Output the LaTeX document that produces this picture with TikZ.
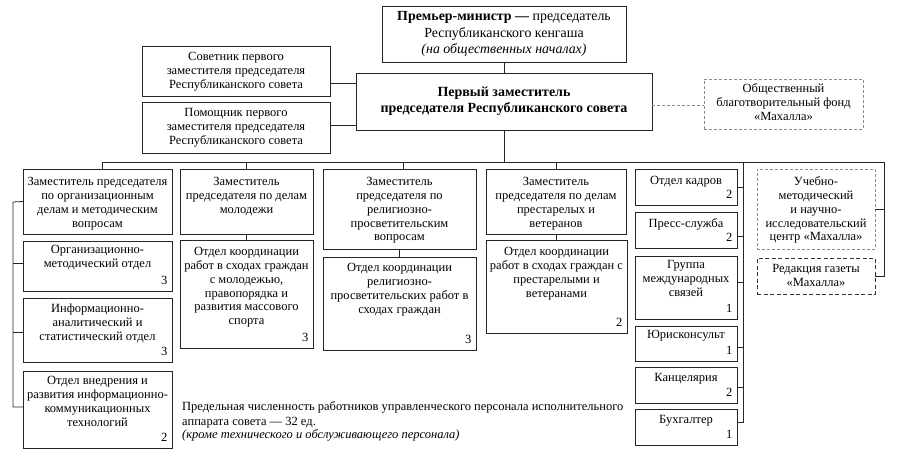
\documentclass[tikz,border=0pt]{standalone}
\usepackage{fontspec}
\setmainfont{Liberation Serif}
\tikzset{
 box/.style={draw=black!85, line width=0.8pt, inner sep=0pt, outer sep=0pt},
 gbox/.style={box, draw=black!45, dash pattern=on 3pt off 2pt},
 kbox/.style={box, draw=black!80, dash pattern=on 4pt off 2.5pt, line width=1pt},
 txt/.style={inner sep=0pt, align=center, anchor=north, font=\fontsize{12.5}{13.8}\selectfont},
 num/.style={inner sep=0pt, font=\fontsize{12.5}{13.8}\selectfont, anchor=base east},
 conn/.style={draw=black!85, line width=0.8pt},
 gconn/.style={draw=black!45, line width=0.8pt, dash pattern=on 3pt off 2pt},
}
\newcommand\bx[6][]{\node[box,#1,anchor=north west,minimum width={(#5-#3)*1pt},minimum height={(#6-#4)*1pt}] (#2) at (#3,#4) {};}
\newcommand\tx[3]{\node[txt] (#1t) at ([yshift=-#2pt]#1.north) {\rule{0pt}{9pt}#3};}
\newcommand\nm[2]{\node[num] (#1n) at ([xshift=-4.5pt,yshift=7pt]#1.south east) {#2};}
\begin{document}
\begin{tikzpicture}[x=1pt,y=-1pt]
\useasboundingbox (0,0) rectangle (904,467);
% boxes
\bx{prem}{382}{6}{626}{62}
\bx{fd}{356}{73}{652}{130}
\bx{sov}{142}{46}{330}{96}
\bx{pom}{142}{102}{330}{153}
\bx[gbox]{fund}{704}{79}{863}{129}
\bx{A1}{23}{169}{172}{234}
\bx{A2}{23}{241}{172}{291}
\bx{A3}{23}{298}{172}{362}
\bx{A4}{23}{371}{172}{448}
\bx{B1}{180}{169}{313}{234}
\bx{B2}{180}{240}{313}{348}
\bx{C1}{323}{169}{476}{249}
\bx{C2}{323}{257}{476}{350}
\bx{D1}{486}{169}{626}{234}
\bx{D2}{486}{240}{627}{333}
\bx{kad}{635}{169}{737}{205}
\bx{prs}{635}{212}{737}{248}
\bx{grp}{635}{256}{737}{319}
\bx{yur}{635}{326}{737}{361}
\bx{kan}{635}{367}{737}{403}
\bx{buh}{635}{409}{737}{445}
\bx[gbox]{uch}{757}{169}{875}{249}
\bx[kbox]{red}{757}{258}{875}{294}
% texts
\node[txt,anchor=center,font=\fontsize{13.9}{16.5}\selectfont] (premt) at (prem.center)
  {\textbf{Премьер-министр —} председатель\\Республиканского кенгаша\\\textit{(на общественных началах)}};
\node[txt,anchor=center,font=\fontsize{14}{16}\selectfont\bfseries] (fdt) at (fd.center)
  {Первый заместитель\\председателя Республиканского совета};
\tx{sov}{5.5}{Советник первого\\заместителя председателя\\Республиканского совета}
\tx{pom}{5.5}{Помощник первого\\заместителя председателя\\Республиканского совета}
\tx{fund}{4.5}{Общественный\\благотворительный фонд\\«Махалла»}
\tx{A1}{7.5}{Заместитель председателя\\по организационным\\делам и методическим\\вопросам}
\tx{A2}{3.5}{Организационно-\\методический отдел}
\tx{A3}{5.5}{Информационно-\\аналитический и\\статистический отдел}
\tx{A4}{4.5}{Отдел внедрения и\\развития информационно-\\коммуникационных\\технологий}
\tx{B1}{7.5}{Заместитель\\председателя по делам\\молодежи}
\tx{B2}{6.5}{Отдел координации\\работ в сходах граждан\\с молодежью,\\правопорядка и\\развития массового\\спорта}
\tx{C1}{7.5}{Заместитель\\председателя по\\религиозно-\\просветительским\\вопросам}
\tx{C2}{5.5}{Отдел координации\\религиозно-\\просветительских работ в\\сходах граждан}
\tx{D1}{7.5}{Заместитель\\председателя по делам\\престарелых и\\ветеранов}
\tx{D2}{6.5}{Отдел координации\\работ в сходах граждан с\\престарелыми и\\ветеранами}
\tx{kad}{6.5}{Отдел кадров}
\tx{prs}{6.5}{Пресс-служба}
\tx{grp}{3.5}{Группа\\международных\\связей}
\tx{yur}{3.5}{Юрисконсульт}
\tx{kan}{5.5}{Канцелярия}
\tx{buh}{5.5}{Бухгалтер}
\tx{uch}{7.5}{Учебно-\\методический\\и научно-\\исследовательский\\центр «Махалла»}
\tx{red}{5.5}{Редакция газеты\\«Махалла»}
% numbers
\nm{A2}{3}\nm{A3}{3}\nm{A4}{2}
\nm{B2}{3}\nm{C2}{3}\nm{D2}{2}
\nm{kad}{2}\nm{prs}{2}\nm{grp}{1}\nm{yur}{1}\nm{kan}{2}\nm{buh}{1}
% footnote
\node[inner sep=0pt, anchor=north west, align=left, font=\fontsize{12.5}{13.8}\selectfont] (note) at (182,401.5)
  {\rule{0pt}{9pt}Предельная численность работников управленческого персонала исполнительного\\[1.2pt]
   аппарата совета — 32 ед.\\[-0.8pt]
   \textit{(кроме технического и обслуживающего персонала)}};
% connectors
\coordinate (busL) at (102,162);
\coordinate (busR) at (884,162);
\coordinate (rc) at (743,162);
\coordinate (lc) at (13,202);
\draw[conn] (prem.south) -- (fd.north);
\draw[conn] ([yshift=-12pt]sov.east) -- ([yshift=-12pt]sov.east -| fd.west);
\draw[conn] ([yshift=2.5pt]pom.east) -- ([yshift=2.5pt]pom.east -| fd.west);
\draw[gconn] ([yshift=-4pt]fd.east) -- ([yshift=-4pt]fd.east -| fund.west);
\draw[conn] (fd.south) -- (fd.south |- busL);
\draw[conn] (A1.north -| busL) |- (busR) |- (red.east);
\draw[conn] (uch.east) -- (uch.east -| busR);
\draw[conn] (B1.north) -- (B1.north |- busL);
\draw[conn] ([xshift=3.5pt]C1.north) -- ([xshift=3.5pt]C1.north |- busL);
\draw[conn] (D1.north) -- (D1.north |- busL);
\draw[conn] (B1.south) -- (B2.north);
\draw[conn] (C1.south) -- (C2.north);
\draw[conn] (D1.south) -- (D1.south |- D2.north);
\draw[conn] (A1.west) -- (lc) |- ([yshift=2.5pt]A4.west);
\draw[conn] ([yshift=3pt]A2.west) -- ([yshift=3pt]A2.west -| lc);
\draw[conn] ([yshift=-2pt]A3.west) -- ([yshift=-2pt]A3.west -| lc);
\draw[conn] (rc) |- ([yshift=5pt]buh.east);
\draw[conn] (kad.east) -- (kad.east -| rc);
\draw[conn] ([yshift=-6pt]prs.east) -- ([yshift=-6pt]prs.east -| rc);
\draw[conn] ([yshift=5.5pt]grp.east) -- ([yshift=5.5pt]grp.east -| rc);
\draw[conn] ([yshift=-3.5pt]yur.east) -- ([yshift=-3.5pt]yur.east -| rc);
\draw[conn] ([yshift=-2pt]kan.east) -- ([yshift=-2pt]kan.east -| rc);
\end{tikzpicture}
\end{document}
